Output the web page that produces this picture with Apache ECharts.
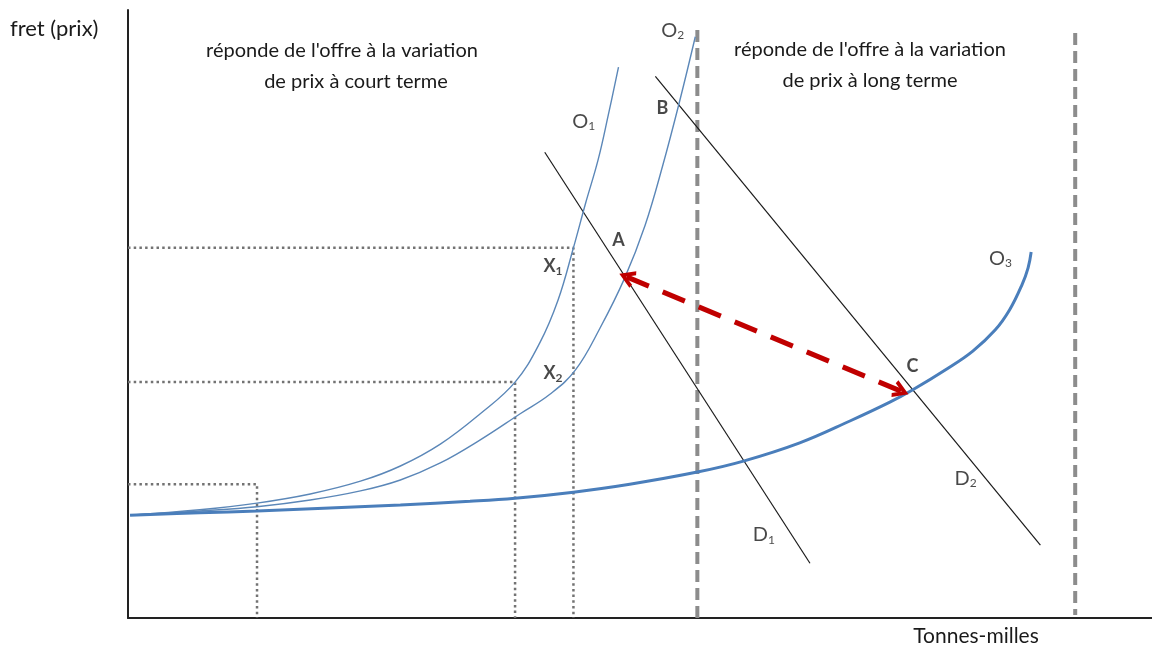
<!DOCTYPE html>
<html>
<head>
<meta charset="utf-8">
<script src="https://cdn.jsdelivr.net/npm/echarts@6/dist/echarts.min.js"></script>
<style>
html,body{margin:0;padding:0;background:#fff;}
#chart{width:1152px;height:647px;}
</style>
</head>
<body>
<div id="chart"></div>
<script>
// ---- data (conceptual units: x = tonnes-milles 0..100, y = fret 0..100) ----
const supplyO1 = [[0.2,16.9],[7.0,17.8],[12.6,18.9],[17.8,20.4],[22.7,22.5],[26.6,25.0],[30.5,28.6],[34.4,33.6],[37.8,38.8],[40.2,45.2],[42.0,52.3],[43.5,60.9],[44.7,68.3],[45.9,75.3],[46.9,82.7],[47.9,90.6]];
const supplyO2 = [[0.2,16.9],[7.0,17.6],[12.6,18.3],[17.8,19.4],[22.7,20.9],[26.6,22.7],[30.5,25.5],[34.4,29.3],[38.3,33.6],[41.2,36.8],[43.7,40.8],[46.1,47.7],[48.5,55.9],[50.5,64.6],[52.2,74.3],[53.9,85.2],[55.4,95.6]];
const supplyO3 = [[0.2,16.9],[7.0,17.3],[12.6,17.6],[19.7,18.1],[26.6,18.6],[33.4,19.2],[37.8,19.7],[43.5,20.7],[49.0,22.0],[55.6,24.0],[60.1,25.8],[65.6,28.8],[70.5,32.4],[74.4,35.5],[76.6,37.5],[80.0,41.0],[82.5,43.9],[84.7,47.4],[86.1,50.7],[87.3,54.8],[87.9,57.6],[88.2,60.2]];
const demandD1 = [[40.7,76.6],[66.6,9.0]];
const demandD2 = [[51.5,89.1],[89.1,12.0]];
const limitShort = [[55.6,96.7],[55.6,-0.6]];
const limitLong = [[92.5,96.2],[92.5,0.5]];
const guideX1 = [[0,60.9],[43.5,60.9],[43.5,0]];
const guideX2 = [[0,38.8],[37.8,38.8],[37.8,0]];
const guideLow = [[0,22.0],[12.6,22.0],[12.6,0]];
const shiftArrow = [[48.7,56.1],[75.5,37.3]];
const pointLabels = [
  {name:'A', value:[47.9,62.2], bold:true},
  {name:'B', value:[52.2,83.9], bold:true},
  {name:'C', value:[76.6,41.4], bold:true},
  {name:'X{s|1}', value:[41.5,57.9], bold:true},
  {name:'X{s|2}', value:[41.5,40.3], bold:true},
  {name:'O{s|1}', value:[44.5,81.7]},
  {name:'O{s|2}', value:[53.2,96.7]},
  {name:'O{s|3}', value:[85.2,59.2]},
  {name:'D{s|1}', value:[62.1,13.7]},
  {name:'D{s|2}', value:[81.8,23.0]}
];
const yTitle = 'fret (prix)';
const xTitle = 'Tonnes-milles';
const shortTitle1 = "réponde de l'offre à la variation";
const shortTitle2 = "de prix à court terme";
const longTitle = "réponde de l'offre à la variation\nde prix à long terme";

const FONT = 'Lato';
const thinBlue = '#5b87b8';
const thickBlue = '#4a7ebb';
const dotted = {color:'#737373', width:2.5, type:[2.5,3.2]};
const dashedGray = {color:'#8c8c8c', width:4, type:[12,6]};

function lineSeries(data, style, smooth){
  return {type:'line', data:data, symbol:'none', smooth:smooth||false,
          lineStyle:style, silent:true, animation:false};
}

const chevron = 'path://M0,11 L6,0 L12,11 L9.5,12 L6,5.5 L2.5,12 Z';

const chart = echarts.init(document.getElementById('chart'), null, {renderer:'canvas'});
chart.setOption({
  animation:false,
  backgroundColor:'#ffffff',
  grid:{left:128, right:0, top:10, bottom:29, containLabel:false},
  xAxis:{type:'value', min:0, max:100, axisLine:{show:true, lineStyle:{color:'#222', width:2}},
         axisTick:{show:false}, axisLabel:{show:false}, splitLine:{show:false}},
  yAxis:{type:'value', min:0, max:100, axisLine:{show:true, lineStyle:{color:'#222', width:2}},
         axisTick:{show:false}, axisLabel:{show:false}, splitLine:{show:false}},
  series:[
    lineSeries(guideX1, dotted),
    lineSeries(guideX2, dotted),
    lineSeries(guideLow, dotted),
    lineSeries(limitShort, dashedGray),
    lineSeries(limitLong, dashedGray),
    lineSeries(demandD1, {color:'#1a1a1a', width:1.2}),
    lineSeries(demandD2, {color:'#1a1a1a', width:1.2}),
    lineSeries(supplyO1, {color:thinBlue, width:1.4}, 0.4),
    lineSeries(supplyO2, {color:thinBlue, width:1.4}, 0.4),
    lineSeries(supplyO3, {color:thickBlue, width:3}, 0.4),
    {type:'line', data:[], symbol:'none', silent:true,
     markLine:{silent:true, animation:false, symbol:[chevron, chevron], symbolSize:[18,16],
       label:{show:false},
       lineStyle:{color:'#c00000', width:5, type:[24,15], opacity:1},
       emphasis:{disabled:true},
       data:[[{coord:shiftArrow[0]},{coord:shiftArrow[1]}]]}},
    {type:'scatter', symbolSize:0, silent:true, z:10,
     data:pointLabels.map(p=>({value:p.value, label:{
        show:true, position:'inside', formatter:p.name,
        fontFamily:FONT, fontSize:p.bold?18:20, fontWeight:p.bold?'bold':'normal', color:'#1a1a1a',
        rich:{s:{fontFamily:FONT, fontSize:12, fontWeight:p.bold?'bold':'normal', color:'#1a1a1a', padding:[10,0,0,0]}}
     }}))}
  ],
  graphic:[
    {type:'text', left:10, top:18, style:{text:yTitle, font:'22px '+FONT, fill:'#1a1a1a'}},
    {type:'text', x:342, y:41, style:{text:shortTitle1, font:'20px '+FONT, fill:'#1a1a1a', align:'center'}},
    {type:'text', x:356, y:72, style:{text:shortTitle2, font:'20px '+FONT, fill:'#1a1a1a', align:'center'}},
    {type:'text', x:870, y:34, style:{text:longTitle, font:'20px '+FONT, fill:'#1a1a1a', align:'center', lineHeight:31}},
    {type:'text', x:976, y:626, style:{text:xTitle, font:'21px '+FONT, fill:'#1a1a1a', align:'center'}}
  ]
});
</script>
</body>
</html>
